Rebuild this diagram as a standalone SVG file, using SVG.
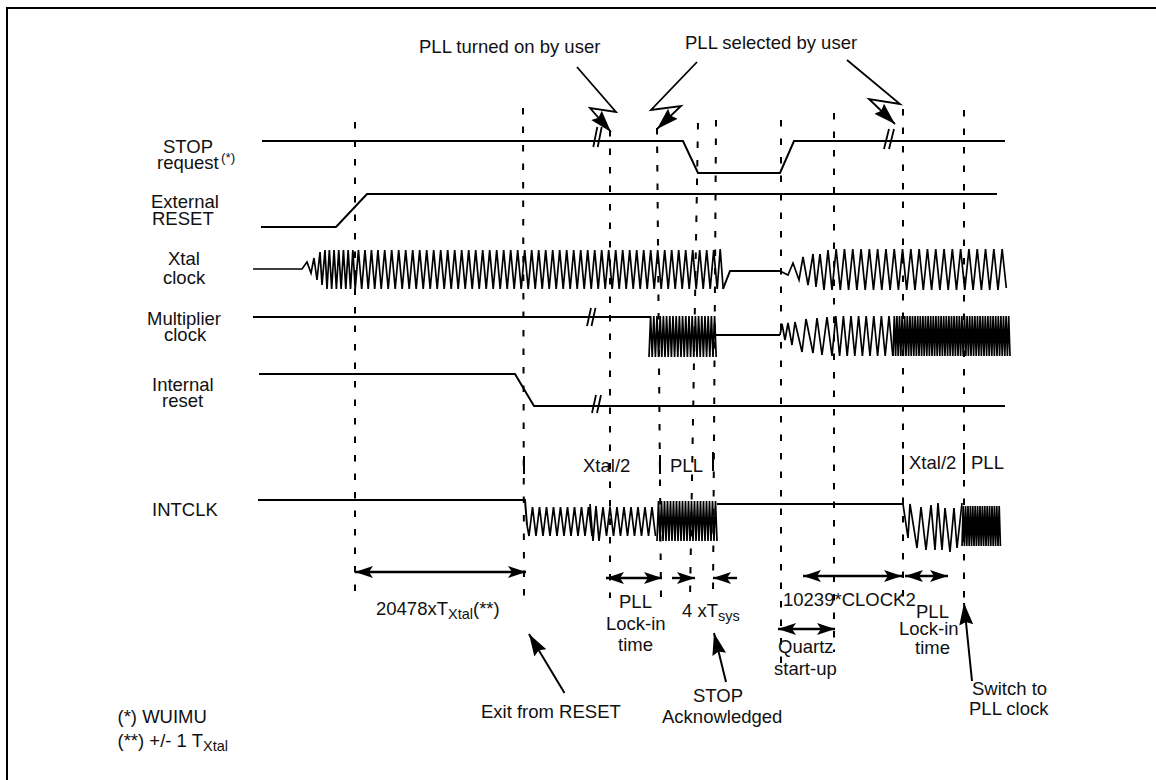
<svg xmlns="http://www.w3.org/2000/svg" width="1156" height="780" viewBox="0 0 1156 780">
<style>
text{font-family:"Liberation Sans",Arial,sans-serif;font-size:18.5px;fill:#111}
.sm{font-size:14.5px}
.sup{font-size:13.5px}
.w{fill:none;stroke:#000;stroke-width:2;stroke-linejoin:miter}
.thin{stroke-width:1.7}
.d{fill:none;stroke:#000;stroke-width:2;stroke-dasharray:6.5 12}
.b{fill:none;stroke:#000;stroke-width:2}
.a{fill:none;stroke:#000;stroke-width:2.4}
.l{fill:none;stroke:#000;stroke-width:1.8}
</style>
<defs>
<marker id="dbl" markerUnits="userSpaceOnUse" orient="auto-start-reverse" markerWidth="20" markerHeight="14" refX="18" refY="7" viewBox="0 0 20 14"><path d="M18,7L0,1 4,7 0,13z" fill="#000"/></marker>
<marker id="big" markerUnits="userSpaceOnUse" orient="auto" markerWidth="24" markerHeight="18" refX="22" refY="9" viewBox="0 0 24 18"><path d="M22,9L0,2 3,9 0,16z" fill="#000"/></marker>
</defs>
<rect width="1156" height="780" fill="#fff"/>
<path id="frame" class="b" d="M7,780V8H1156"/>
<g id="guides">
<path class="d" d="M355,122V598"/>
<path class="d" d="M523,108L524,598"/>
<path class="d" d="M610,130V598"/>
<path class="d" d="M657,128L661,598"/>
<path class="d" d="M698,123L690,598"/>
<path class="d" d="M716,120L713,598"/>
<path class="d" d="M781,120V664"/>
<path class="d" d="M834,113V652"/>
<path class="d" d="M903,109V598"/>
<path class="d" d="M964,110V598"/>
<path class="b" d="M524,456V474M660,455V474M713,452V471M903,455V474M964,453V474"/>
</g>
<g id="stop-request">
<text x="163" y="153">STOP</text>
<text x="157" y="169">request</text><text class="sup" x="221" y="162">(*)</text>
<path class="w" d="M262,141H683L698,173H780L794,141H1005"/>
<path class="l" d="M593.3,147L597.3,127M597.7,147L601.7,127M884,149L889,129M889,149L894,129"/>
</g>
<g id="external-reset">
<text x="151" y="208">External</text>
<text x="152" y="225">RESET</text>
<path class="w" d="M261,227H336L367,194H997"/>
</g>
<g id="xtal-clock">
<text x="168" y="265">Xtal</text>
<text x="163" y="284">clock</text>
<path class="w thin" d="M253,269H302L307,262 311,273 314,258 317,280 320,252 322,285 325,250 327,289l2.350-39 2.350 39 2.350-39 2.350 39 2.350-39 2.350 39 2.350-39 2.350 39 2.350-39 2.350 39 2.350-39 2.350 39l3.250-39 3.250 39 3.250-39 3.250 39 3.250-39 3.250 39 3.250-39 3.250 39l3.500-39 3.500 39 3.500-39 3.500 39 3.500-39 3.500 39 3.500-39 3.500 39 3.500-39 3.500 39 3.500-39 3.500 39 3.500-39 3.500 39 3.500-39 3.500 39 3.500-39 3.500 39 3.500-39 3.500 39 3.500-39 3.500 39 3.500-39 3.500 39 3.500-39 3.500 39 3.500-39 3.500 39 3.500-39 3.500 39 3.500-39 3.500 39 3.500-39 3.500 39 3.500-39 3.500 39 3.500-39 3.500 39 3.500-39 3.500 39 3.500-39 3.500 39 3.500-39 3.500 39 3.500-39 3.500 39 3.500-39 3.500 39 3.500-39 3.500 39 3.500-39 3.500 39 3.500-39 3.500 39 3.500-39 3.500 39 3.500-39 3.500 39 3.500-39 3.500 39 3.500-39 3.500 39 3.500-39 3.500 39 3.500-39 3.500 39 3.500-39 3.500 39 3.500-39 3.500 39 3.500-39 3.500 39 3.500-39 3.500 39 3.500-39 3.500 39 3.500-39 3.500 39 3.500-39 3.500 39 3.500-39 3.500 39 3.500-39 3.500 39 3.500-39 3.500 39 3.500-39 3.500 39 3.500-39 3.500 39 3.500-39 3.500 39 3.500-39 3.500 39 3.500-39 3.500 39 3-40 3 40"/>
<path class="w" d="M723,289L730,271H780"/>
<path class="w thin" d="M780,271L788,275 793,263 799,280 803,257 808,285 813,254 816,287 820,254 824,290 828,250 832,290l4.150-41 4.150 41 4.150-41 4.150 41 4.150-41 4.150 41 4.150-41 4.150 41 4.150-41 4.150 41 4.150-41 4.150 41 4.150-41 4.150 41 4.150-41 4.150 41 4.150-41 4.150 41 4.150-41 4.150 41 4.150-41 4.150 41 4.150-41 4.150 41 4.150-41 4.150 41 4.150-41 4.150 41 4.150-41 4.150 41 4.150-41 4.150 41 4.150-41 4.150 41 4.150-41 4.150 41 4.150-41 4.150 41 4.150-41 4.150 41 4.150-41 4.150 39"/>
</g>
<g id="multiplier-clock">
<text x="147" y="325">Multiplier</text>
<text x="164" y="341">clock</text>
<path class="w" d="M253,317H650"/>
<path class="l" d="M587,326L591,308M591.500,326L595.500,308"/>
<path class="w thin" d="M649,357l1.600-41 1.600 41 1.600-41 1.600 41 1.600-41 1.600 41 1.600-41 1.600 41 1.600-41 1.600 41 1.600-41 1.600 41 1.600-41 1.600 41 1.600-41 1.600 41 1.600-41 1.600 41 1.600-41 1.600 41 1.600-41 1.600 41 1.600-41 1.600 41 1.600-41 1.600 41 1.600-41 1.600 41 1.600-41 1.600 41 1.600-41 1.600 41 1.600-41 1.600 41 1.600-41 1.600 41 1.600-41 1.600 41 1.600-41 1.600 41 1.600-41 1.600 41"/>
<path class="w" d="M715,335H780"/>
<path class="w thin" d="M780,335L782,324 785,340 788,323 792,345 795,322 802,352 806,319 813,353 817,318 822,355 827,317 832,356l3.800-40 3.800 40 3.800-40 3.800 40 3.800-40 3.800 40 3.800-40 3.800 40 3.800-40 3.800 40 3.800-40 3.800 40 3.800-40 3.800 40 3.800-40 3.800 40"/>
<path class="w thin" d="M893,356l1.300-40 1.300 40 1.300-40 1.300 40 1.300-40 1.300 40 1.300-40 1.300 40 1.300-40 1.300 40 1.300-40 1.300 40 1.300-40 1.300 40 1.300-40 1.300 40 1.300-40 1.300 40 1.300-40 1.300 40 1.300-40 1.300 40 1.300-40 1.300 40 1.300-40 1.300 40 1.300-40 1.300 40 1.300-40 1.300 40 1.300-40 1.300 40 1.300-40 1.300 40 1.300-40 1.300 40 1.300-40 1.300 40 1.300-40 1.300 40 1.300-40 1.300 40 1.300-40 1.300 40 1.300-40 1.300 40 1.300-40 1.300 40 1.300-40 1.300 40 1.300-40 1.300 40 1.300-40 1.300 40 1.300-40 1.300 40 1.300-40 1.300 40 1.300-40 1.300 40 1.300-40 1.300 40 1.300-40 1.300 40 1.300-40 1.300 40 1.300-40 1.300 40 1.300-40 1.300 40 1.300-40 1.300 40 1.300-40 1.300 40 1.300-40 1.300 40 1.300-40 1.300 40 1.300-40 1.300 40 1.300-40 1.300 40 1.300-40 1.300 40 1.300-40 1.300 40 1.300-40 1.300 40 1.300-40 1.300 40"/>
</g>
<g id="internal-reset">
<text x="152" y="391">Internal</text>
<text x="162" y="407">reset</text>
<path class="w" d="M259,374H515L534,406H1005"/>
<path class="l" d="M592,413L596,395M597,413L601,395"/>
</g>
<g id="intclk">
<text x="152" y="516">INTCLK</text>
<path class="w" d="M258,500H525L527,525"/>
<path class="w thin" d="M527,525L529,536l3.500-29 3.500 29 3.500-29 3.500 29 3.500-29 3.500 29 3.500-29 3.500 29 3.500-29 3.500 29 3.500-29 3.500 29 3.500-29 3.500 29 3.500-29 3.500 29 3.500-29 3.500 29L590,504 593,541 596,506 599,541 603,507l3.500 29 3.500-29 3.500 29 3.500-29 3.500 29 3.500-29 3.500 29 3.500-29 3.500 29 3.500-29 3.500 29 3.500-29 3.500 29 3.500-29 3.500 29"/>
<path class="w thin" d="M657,541l1.500-40 1.500 40 1.500-40 1.500 40 1.500-40 1.500 40 1.500-40 1.500 40 1.500-40 1.500 40 1.500-40 1.500 40 1.500-40 1.500 40 1.500-40 1.500 40 1.500-40 1.500 40 1.500-40 1.500 40 1.500-40 1.500 40 1.500-40 1.500 40 1.500-40 1.500 40 1.500-40 1.500 40 1.500-40 1.500 40 1.500-40 1.500 40 1.500-40 1.500 40 1.500-40 1.500 40 1.500-40 1.500 40 1.500-40 1.500 40"/>
<path class="w" d="M717,504H903"/>
<path class="w thin" d="M903,504L908,538 910,504 917,548 921,507 926,550 931,505 935,550 938,503 942,550 945,508 950,552 954,508 957,548 962,503"/>
<path class="w thin" d="M962,546l1.200-40 1.200 40 1.200-40 1.200 40 1.200-40 1.200 40 1.200-40 1.200 40 1.200-40 1.200 40 1.200-40 1.200 40 1.200-40 1.200 40 1.200-40 1.200 40 1.200-40 1.200 40 1.200-40 1.200 40 1.200-40 1.200 40 1.200-40 1.200 40 1.200-40 1.200 40 1.200-40 1.200 40 1.200-40 1.200 40 1.200-40 1.200 40"/>
</g>
<g id="connectors">
<path class="a" marker-start="url(#dbl)" marker-end="url(#dbl)" d="M355,572H526"/>
<path class="a" marker-start="url(#dbl)" marker-end="url(#dbl)" d="M606,578H662"/>
<path class="a" marker-end="url(#dbl)" d="M672,578H695"/>
<path class="a" marker-end="url(#dbl)" d="M737,578H713"/>
<path class="a" marker-start="url(#dbl)" marker-end="url(#dbl)" d="M803,576H902"/>
<path class="a" marker-start="url(#dbl)" marker-end="url(#dbl)" d="M905,576H948"/>
<path class="a" marker-start="url(#dbl)" marker-end="url(#dbl)" d="M778,629H835"/>
<path class="l" marker-end="url(#big)" d="M577,67L616,112 590,108 611,132"/>
<path class="l" marker-end="url(#big)" d="M697,62L651,110 681,106 657,129"/>
<path class="l" marker-end="url(#big)" d="M847,60L900,104 869,99 895,124"/>
<path class="b" marker-end="url(#big)" d="M564.500,693L529,634"/>
<path class="b" marker-end="url(#big)" d="M726,682L714,633"/>
<path class="b" marker-end="url(#big)" d="M972,681L964,603"/>
</g>
<g id="labels">
<text x="419" y="53">PLL turned on by user</text>
<text x="685" y="49">PLL selected by user</text>
<text x="583" y="472">Xtal/2</text>
<text x="670" y="472">PLL</text>
<text x="909" y="469">Xtal/2</text>
<text x="971" y="469">PLL</text>
<text x="376" y="615">20478xT<tspan class="sm" dy="4">Xtal</tspan><tspan dy="-4">(**)</tspan></text>
<text x="619" y="608">PLL</text>
<text x="606" y="630">Lock-in</text>
<text x="618" y="651">time</text>
<text x="682" y="617">4 xT<tspan class="sm" dy="4">sys</tspan></text>
<text x="783" y="606">10239*CLOCK2</text>
<text x="778" y="653">Quartz</text>
<text x="774" y="675">start-up</text>
<text x="916" y="618">PLL</text>
<text x="899" y="635">Lock-in</text>
<text x="915" y="654">time</text>
<text x="693" y="702">STOP</text>
<text x="662" y="723">Acknowledged</text>
<text x="481" y="718">Exit from RESET</text>
<text x="972" y="695">Switch to</text>
<text x="969" y="715">PLL clock</text>
<text x="117.500" y="723">(*) WUIMU</text>
<text x="117.500" y="747">(**) +/- 1 T<tspan class="sm" dy="4">Xtal</tspan></text>
</g>
</svg>
